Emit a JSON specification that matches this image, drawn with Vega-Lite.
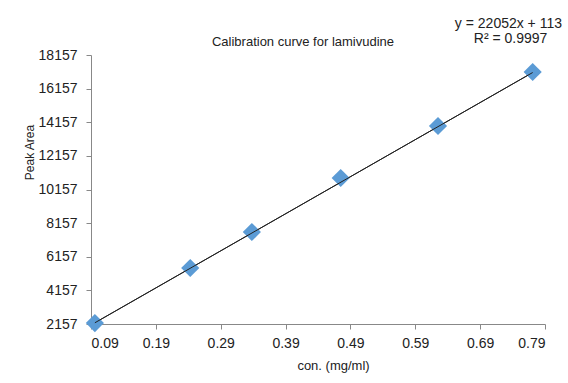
{
  "$schema": "https://vega.github.io/schema/vega-lite/v6.json",
  "width": 454,
  "height": 269,
  "autosize": {"type": "none"},
  "padding": {"left": 91, "top": 55, "right": 23, "bottom": 59},
  "background": "white",
  "config": {"view": {"stroke": null}, "font": "Liberation Sans"},
  "title": {"text": "Calibration curve for lamivudine", "fontSize": 13, "fontWeight": "normal", "color": "#222", "dx": -15, "dy": 39, "offset": 7, "font": "Liberation Sans"},
  "datasets": {
    "points": [
      {"conc": 0.096, "area": 2210},
      {"conc": 0.243, "area": 5488},
      {"conc": 0.338, "area": 7629},
      {"conc": 0.475, "area": 10841},
      {"conc": 0.625, "area": 13934},
      {"conc": 0.771, "area": 17146}
    ],
    "trend": [
      {"conc": 0.096, "area": 2230},
      {"conc": 0.771, "area": 17115}
    ],
    "eq": [
      {"conc": 0.651, "area": 20001, "label": "y = 22052x + 113"}
    ],
    "r2": [
      {"conc": 0.737, "area": 19109, "label": "R² = 0.9997"}
    ]
  },
  "layer": [
    {
      "data": {"name": "trend"},
      "mark": {"type": "line", "color": "#222", "strokeWidth": 1},
      "encoding": {
        "x": {"field": "conc", "type": "quantitative", "scale": {"domain": [0.09, 0.79], "nice": false, "zero": false},
          "axis": {"values": [0.09, 0.19, 0.29, 0.39, 0.49, 0.59, 0.69, 0.79], "tickCount": 20, "format": ".2f", "grid": false, "labelOverlap": false,
            "domainColor": "#888", "tickColor": "#888", "tickSize": 5, "labelFontSize": 14, "labelColor": "#222", "labelPadding": 7,
            "title": "con. (mg/ml)", "titleFontSize": 13, "titleFontWeight": "normal", "titleColor": "#222", "titlePadding": 9, "titleX": 242}},
        "y": {"field": "area", "type": "quantitative", "scale": {"domain": [2157, 18157], "nice": false, "zero": false},
          "axis": {"values": [2157, 4157, 6157, 8157, 10157, 12157, 14157, 16157, 18157], "tickCount": 20, "format": "d", "grid": false, "labelOverlap": false,
            "domainColor": "#888", "tickColor": "#888", "tickSize": 5, "labelFontSize": 14, "labelColor": "#222", "labelPadding": 9,
            "title": "Peak Area", "titleFontSize": 12, "titleFontWeight": "normal", "titleColor": "#222", "titleX": -55, "titleY": 97}}
      }
    },
    {
      "data": {"name": "points"},
      "mark": {"type": "point", "shape": "diamond", "filled": true, "size": 330, "color": "#5B9BD5", "opacity": 1},
      "encoding": {
        "x": {"field": "conc", "type": "quantitative"},
        "y": {"field": "area", "type": "quantitative"}
      }
    },
    {
      "data": {"name": "trend"},
      "mark": {"type": "line", "color": "#222", "strokeWidth": 1},
      "encoding": {
        "x": {"field": "conc", "type": "quantitative"},
        "y": {"field": "area", "type": "quantitative"}
      }
    },
    {
      "data": {"name": "eq"},
      "mark": {"type": "text", "align": "left", "baseline": "middle", "fontSize": 14, "color": "#222"},
      "encoding": {
        "x": {"field": "conc", "type": "quantitative"},
        "y": {"field": "area", "type": "quantitative"},
        "text": {"field": "label"}
      }
    },
    {
      "data": {"name": "r2"},
      "mark": {"type": "text", "align": "center", "baseline": "middle", "fontSize": 14, "color": "#222"},
      "encoding": {
        "x": {"field": "conc", "type": "quantitative"},
        "y": {"field": "area", "type": "quantitative"},
        "text": {"field": "label"}
      }
    }
  ]
}
